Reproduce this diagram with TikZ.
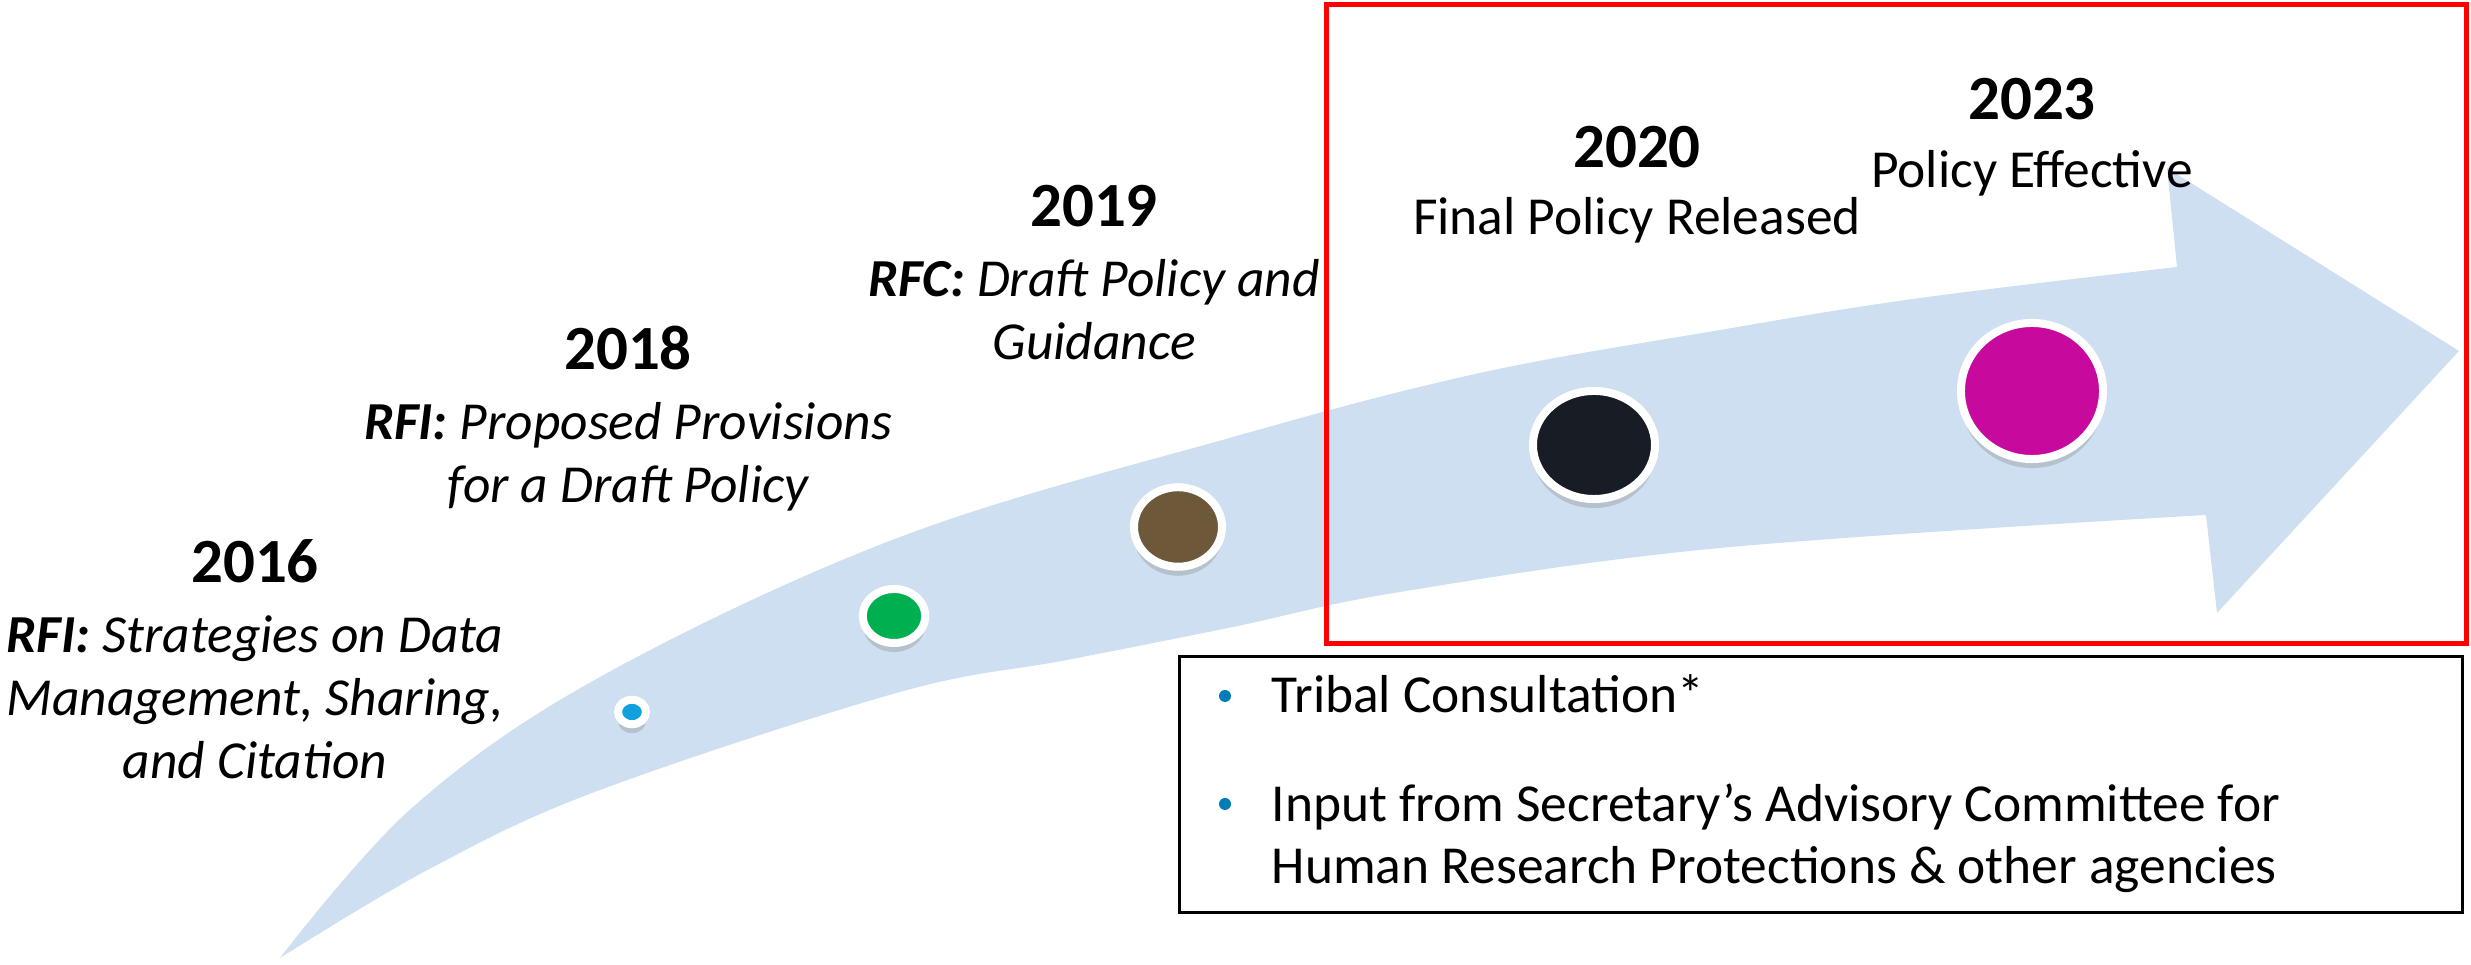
\documentclass[tikz,border=0pt]{standalone}
\usepackage{fontspec}
\setmainfont{Carlito}
\usetikzlibrary{positioning, shapes.geometric, shadows}
\definecolor{arrowblue}{RGB}{205,223,240}
\definecolor{dotblue}{RGB}{16,160,222}
\definecolor{dotgreen}{RGB}{0,176,80}
\definecolor{dotbrown}{RGB}{109,89,58}
\definecolor{dotblack}{RGB}{23,28,37}
\definecolor{dotmagenta}{RGB}{199,9,158}
\definecolor{bulletblue}{RGB}{0,125,182}
\definecolor{framered}{RGB}{255,0,0}

\begin{document}
\begin{tikzpicture}[x=0.01cm, y=-0.01cm]
    \tikzstyle{year}=[font=\fontsize{17.9}{21}\selectfont\bfseries, inner sep=0pt, anchor=base]
    \tikzstyle{desc}=[font=\fontsize{15.2}{17.9}\selectfont\itshape, align=center, inner sep=0pt, anchor=base]
    \tikzstyle{plain desc}=[desc, font=\fontsize{15.2}{17.9}\selectfont\upshape]
    \tikzstyle{dot}=[ellipse, draw=white, line width=0.08cm, inner sep=0pt,
        drop shadow={shadow xshift=0pt, shadow yshift=-0.09cm, opacity=0.3}]
    \tikzstyle{bullet}=[circle, fill=bulletblue, minimum size=0.12cm, inner sep=0pt]
    \tikzstyle{note}=[font=\fontsize{15.2}{17.9}\selectfont, inner sep=0pt, anchor=base west, align=left]
    \useasboundingbox (0,0) rectangle (2471,965);

    % Draw the bent arrow
    \fill[arrowblue] plot[smooth, tension=0.6] coordinates {(280,958) (413,807) (600,677) (900,537)
            (1233,437) (1480,373) (1720,330) (1920,298) (2177,267)}
        -- (2167,168) -- (2459,351) -- (2217,613) -- (2206,515)
        -- plot[smooth, tension=0.6] coordinates {(2206,515) (1720,548) (1400,592) (1233,627)
            (1067,660) (900,692) (600,790) (433,867) (280,958)} -- cycle;

    % Draw the milestone dots
    \foreach \name/\x/\y/\w/\h/\col in {16/632/712/0.28/0.245/dotblue,
            18/894/616/0.625/0.54/dotgreen, 19/1178/527/0.88/0.795/dotbrown,
            20/1594/445/1.22/1.08/dotblack, 23/2032/391/1.42/1.36/dotmagenta}
        \node[dot, fill=\col, minimum width=\w cm, minimum height=\h cm] (P-\name) at (\x,\y) {};

    % Draw the years and what happened
    % (the base of a node with several lines is its last line)
    \foreach \name/\x/\y/\d/\yr/\txt in {%
            16/255/583/1.95/2016/{\textbf{RFI:} Strategies on Data\\Management, Sharing,\\and Citation},
            18/628/370/1.32/2018/{\textbf{RFI:} Proposed Provisions\\for a Draft Policy},
            19/1094/227/1.32/2019/{\textbf{RFC:} Draft Policy and\\Guidance}}
    {
        \node[year] (Y-\name) at (\x,\y) {\yr};
        \node[desc] (D-\name) at ([yshift=-\d cm]Y-\name.base) {\txt};
    }
    \node[year] (Y-20) at (1637,168) {2020};
    \node[plain desc] (D-20) at ([yshift=-0.66cm]Y-20.base) {Final Policy Released};
    \node[year] (Y-23) at (2032,120) {2023};
    \node[plain desc] (D-23) at ([yshift=-0.67cm]Y-23.base) {Policy Effective};

    % Frame round the final policy
    \draw[framered, line width=0.05cm] (1326,5) rectangle (2466,644);

    % Box with the other input
    \node[draw, line width=0.8pt, minimum width=12.82cm, minimum height=2.56cm, inner sep=0pt,
        anchor=north west] (notes) at (1178,655) {};
    \node[bullet] (B-1) at (1225,696) {};
    \node[note] (N-1) at (1271,713) {Tribal Consultation*};
    \node[bullet] (B-2) at (1225,804) {};
    \node[note] (N-2) at (1271,884) {Input from Secretary’s Advisory Committee for\\Human Research Protections \& other agencies};
\end{tikzpicture}
\end{document}
